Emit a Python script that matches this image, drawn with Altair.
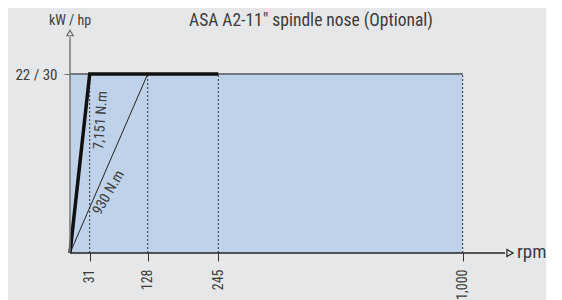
import altair as alt
import pandas as pd

# ---- data ----
rpm_ticks = [31, 128, 245, 1000]
max_rpm = 1000
power_kw = 22
power_label = "22 / 30"
thick_rpm = [0, 31, 245]
thick_kw = [0, 22, 22]
thin_rpm = [0, 128]
thin_kw = [0, 22]
torque_labels = ["7,151 N.m", "930 N.m"]
torque_label_rpm = [50, 63]
torque_label_kw = [16.3, 7.4]
torque_label_angle = [274, 300]
title_text = 'ASA A2-11" spindle nose (Optional)'
y_unit = "kW / hp"
x_unit = "rpm"

FONT = "Roboto Condensed, Liberation Sans Narrow, DejaVu Sans Condensed, sans-serif"
BG = "#e6e7e8"
BLUE = "#bfd2e9"
TXT = "#3c3c3c"

xs = alt.Scale(domain=[0, 31, 128, 245, 1000], range=[0, 19.7, 77.7, 148.3, 392.7])
ys = alt.Scale(domain=[0, 22], range=[225, 46])

area_df = pd.DataFrame({"x0": [0], "x1": [max_rpm], "y0": [0], "y1": [power_kw]})
ticks_df = pd.DataFrame({"rpm": rpm_ticks, "y0": [0] * 4, "y1": [power_kw] * 4})
thick_df = pd.DataFrame({"rpm": thick_rpm, "kw": thick_kw, "o": range(len(thick_rpm))})
thin_df = pd.DataFrame({"rpm": thin_rpm, "kw": thin_kw, "o": range(len(thin_rpm))})
lab_df = pd.DataFrame({"t": torque_labels, "rpm": torque_label_rpm, "kw": torque_label_kw,
                       "a": torque_label_angle})

area = alt.Chart(area_df).mark_rect(color=BLUE).encode(
    x=alt.X("x0:Q", scale=xs, title=None,
            axis=alt.Axis(values=rpm_ticks, format=",d", labelAngle=270, tickSize=8,
                          domain=False, grid=False, labelFont=FONT, labelFontSize=14,
                          labelColor=TXT, tickColor="#333", labelPadding=8)),
    x2="x1:Q",
    y=alt.Y("y0:Q", scale=ys, title=None,
            axis=alt.Axis(values=[power_kw], labelExpr=f"'{power_label}'", tickSize=6,
                          domain=False, grid=False, labelFont=FONT, labelFontSize=15,
                          labelColor=TXT, tickColor="#777", labelPadding=7)),
    y2="y1:Q",
)

top_edge = alt.Chart(area_df).mark_rule(color="#76777a", strokeWidth=2).encode(
    x=alt.X("x0:Q", scale=xs), x2="x1:Q", y=alt.Y("y1:Q", scale=ys)
)

vlines = alt.Chart(ticks_df).mark_rule(color="#333", strokeWidth=1, strokeDash=[2, 2]).encode(
    x=alt.X("rpm:Q", scale=xs), y=alt.Y("y0:Q", scale=ys), y2="y1:Q"
)

thin = alt.Chart(thin_df).mark_line(color="#222", strokeWidth=1).encode(
    x=alt.X("rpm:Q", scale=xs), y=alt.Y("kw:Q", scale=ys), order="o:Q"
)

thick = alt.Chart(thick_df).mark_line(color="#111", strokeWidth=3.5, strokeJoin="miter").encode(
    x=alt.X("rpm:Q", scale=xs), y=alt.Y("kw:Q", scale=ys), order="o:Q"
)

labels = alt.Chart(lab_df).mark_text(font=FONT, fontSize=14.5, color=TXT, align="center",
                                     baseline="middle").encode(
    x=alt.X("rpm:Q", scale=xs), y=alt.Y("kw:Q", scale=ys), text="t:N",
    angle=alt.Angle("a:Q", scale=None)
)

y_line = alt.Chart(area_df).mark_rule(color="#777", strokeWidth=1.5).encode(
    x=alt.value(0), y=alt.value(9), y2=alt.value(225)
)
y_arrow = alt.Chart(area_df).mark_point(shape="triangle-up", filled=True, fill=BG,
                                        stroke="#666", strokeWidth=1.2, size=40, opacity=1).encode(
    x=alt.value(0), y=alt.value(5)
)
x_line = alt.Chart(area_df).mark_rule(color="#222", strokeWidth=1.5).encode(
    x=alt.value(0), x2=alt.value(435), y=alt.value(225)
)
x_arrow = alt.Chart(area_df).mark_point(shape="triangle-right", filled=True, fill=BG,
                                        stroke="#222", strokeWidth=1.2, size=50, opacity=1).encode(
    x=alt.value(440), y=alt.value(225)
)
x_unit_t = alt.Chart(area_df).mark_text(font=FONT, fontSize=19, color=TXT, align="left",
                                        baseline="middle").encode(
    x=alt.value(447), y=alt.value(224), text=alt.value(x_unit)
)
y_unit_t = alt.Chart(area_df).mark_text(font=FONT, fontSize=14, color=TXT, align="center",
                                        baseline="alphabetic").encode(
    x=alt.value(0), y=alt.value(-3), text=alt.value(y_unit)
)
title_t = alt.Chart(area_df).mark_text(font=FONT, fontSize=17.5, color=TXT, align="center",
                                       baseline="alphabetic").encode(
    x=alt.value(241), y=alt.value(-2.5), text=alt.value(title_text)
)

chart = alt.layer(
    area, top_edge, vlines, thin, thick, labels, y_line, y_arrow, x_line, x_arrow,
    x_unit_t, y_unit_t, title_t
).properties(
    width=476, height=225,
    autosize=alt.AutoSizeParams(type="none"),
    padding={"left": 62, "top": 20, "right": 0, "bottom": 47},
    background=BG,
).configure_view(stroke=None)

chart.save("out.html", embed_options={"renderer": "svg", "actions": False})
